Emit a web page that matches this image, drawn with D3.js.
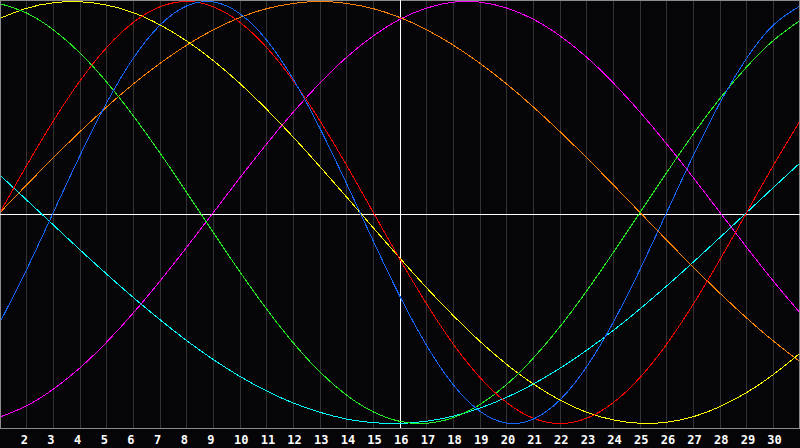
<!DOCTYPE html>
<html>
<head>
<meta charset="utf-8">
<script src="https://cdn.jsdelivr.net/npm/d3@7"></script>
<style>
html,body{margin:0;padding:0;background:#050508;}
svg{display:block;}
</style>
</head>
<body>
<svg id="chart" width="800" height="448"></svg>
<script>
// Days shown on the x axis
const days = d3.range(1, 32);
// Tick labels (day numbers shown under the grid lines)
const tickLabels = d3.range(2, 31);

// Series values per day, range -1..1
const blueValues = [-0.520,-0.270,0,0.270,0.520,0.731,0.888,0.979,0.998,0.942,0.817,0.631,0.398,0.136,-0.136,-0.398,-0.631,-0.817,-0.942,-0.998,-0.979,-0.888,-0.731,-0.520,-0.270,0,0.270,0.520,0.731,0.888,0.979];
const redValues = [0,0.223,0.434,0.624,0.782,0.901,0.975,1,0.975,0.901,0.782,0.624,0.434,0.223,0,-0.223,-0.434,-0.624,-0.782,-0.901,-0.975,-1,-0.975,-0.901,-0.782,-0.624,-0.434,-0.223,0,0.223,0.434];
const greenValues = [0.990,0.945,0.866,0.756,0.618,0.458,0.282,0.095,-0.095,-0.282,-0.458,-0.618,-0.756,-0.866,-0.945,-0.990,-0.999,-0.972,-0.910,-0.815,-0.690,-0.541,-0.372,-0.189,0,0.189,0.372,0.541,0.690,0.815,0.910];
const magentaValues = [-0.969,-0.916,-0.837,-0.736,-0.614,-0.476,-0.325,-0.165,0,0.165,0.325,0.476,0.614,0.736,0.837,0.916,0.969,0.997,0.997,0.969,0.916,0.837,0.736,0.614,0.476,0.325,0.165,0,-0.165,-0.325,-0.476];
const yellowValues = [0.920,0.968,0.994,0.999,0.983,0.947,0.889,0.813,0.720,0.611,0.489,0.357,0.217,0.073,-0.073,-0.217,-0.357,-0.489,-0.611,-0.720,-0.813,-0.889,-0.947,-0.983,-0.999,-0.994,-0.968,-0.920,-0.853,-0.768,-0.667];
const orangeValues = [0,0.131,0.259,0.383,0.500,0.609,0.707,0.793,0.866,0.924,0.966,0.991,1,0.991,0.966,0.924,0.866,0.793,0.707,0.609,0.500,0.383,0.259,0.131,0,-0.131,-0.259,-0.383,-0.500,-0.609,-0.707];
const cyanValues = [0.177,0.059,-0.059,-0.177,-0.292,-0.403,-0.508,-0.607,-0.697,-0.777,-0.846,-0.903,-0.947,-0.979,-0.996,-1.000,-0.989,-0.965,-0.927,-0.876,-0.813,-0.738,-0.653,-0.559,-0.457,-0.348,-0.235,-0.118,0,0.118,0.235];

const seriesNames = ["cyan","magenta","orange","yellow","green","red","blue"];
const seriesColors = ["#00ffff","#ff00ff","#ff8000","#ffff00","#22ee22","#ff0000","#1466ff"];
const seriesValues = [cyanValues, magentaValues, orangeValues, yellowValues, greenValues, redValues, blueValues];

const W = 800, H = 448, plotBottom = 428;
const svg = d3.select("#chart");

svg.append("rect").attr("width", W).attr("height", H).attr("fill", "#050508");

const x = d3.scaleLinear().domain([1, 31]).range([0, 800]);
const y = d3.scaleLinear().domain([-1, 1]).range([423.5, 1.5]);

// vertical grid lines
svg.append("g").selectAll("line").data(days.slice(1, 30)).join("line")
  .attr("x1", d => Math.floor(x(d)) + 0.5)
  .attr("x2", d => Math.floor(x(d)) + 0.5)
  .attr("y1", 0).attr("y2", plotBottom)
  .attr("stroke", "#333333").attr("stroke-width", 1)
  .attr("shape-rendering", "crispEdges");

// frame
svg.append("rect").attr("x", 0.5).attr("y", 0.5).attr("width", W - 1).attr("height", plotBottom)
  .attr("fill", "none").attr("stroke", "#8c8c8c").attr("shape-rendering", "crispEdges");

// centre cross (zero line and today marker)
svg.append("line").attr("x1", 0).attr("x2", W)
  .attr("y1", Math.round(y(0)) + 1.5).attr("y2", Math.round(y(0)) + 1.5)
  .attr("stroke", "#ffffff").attr("shape-rendering", "crispEdges");
svg.append("line").attr("x1", Math.floor(x(16)) + 0.5).attr("x2", Math.floor(x(16)) + 0.5)
  .attr("y1", 0).attr("y2", plotBottom)
  .attr("stroke", "#ffffff").attr("shape-rendering", "crispEdges");

// clip
svg.append("clipPath").attr("id", "plotclip").append("rect")
  .attr("x", 1).attr("y", 1).attr("width", W - 2).attr("height", plotBottom - 1);

const line = d3.line()
  .x((v, i) => x(days[i]))
  .y(v => y(v))
  .curve(d3.curveNatural);

svg.append("g").attr("clip-path", "url(#plotclip)")
  .selectAll("path").data(seriesValues).join("path")
  .attr("d", d => line(d))
  .attr("fill", "none")
  .attr("stroke", (d, i) => seriesColors[i])
  .attr("stroke-width", 1)
  .attr("shape-rendering", "crispEdges");

// tick labels
svg.append("g").selectAll("text").data(tickLabels).join("text")
  .attr("x", d => x(d) - 6)
  .attr("y", 443.5)
  .attr("fill", "#ffffff")
  .attr("font-family", "DejaVu Sans Mono, monospace")
  .attr("font-weight", "bold")
  .attr("font-size", "12px")
  .text(d => d);
</script>
</body>
</html>
